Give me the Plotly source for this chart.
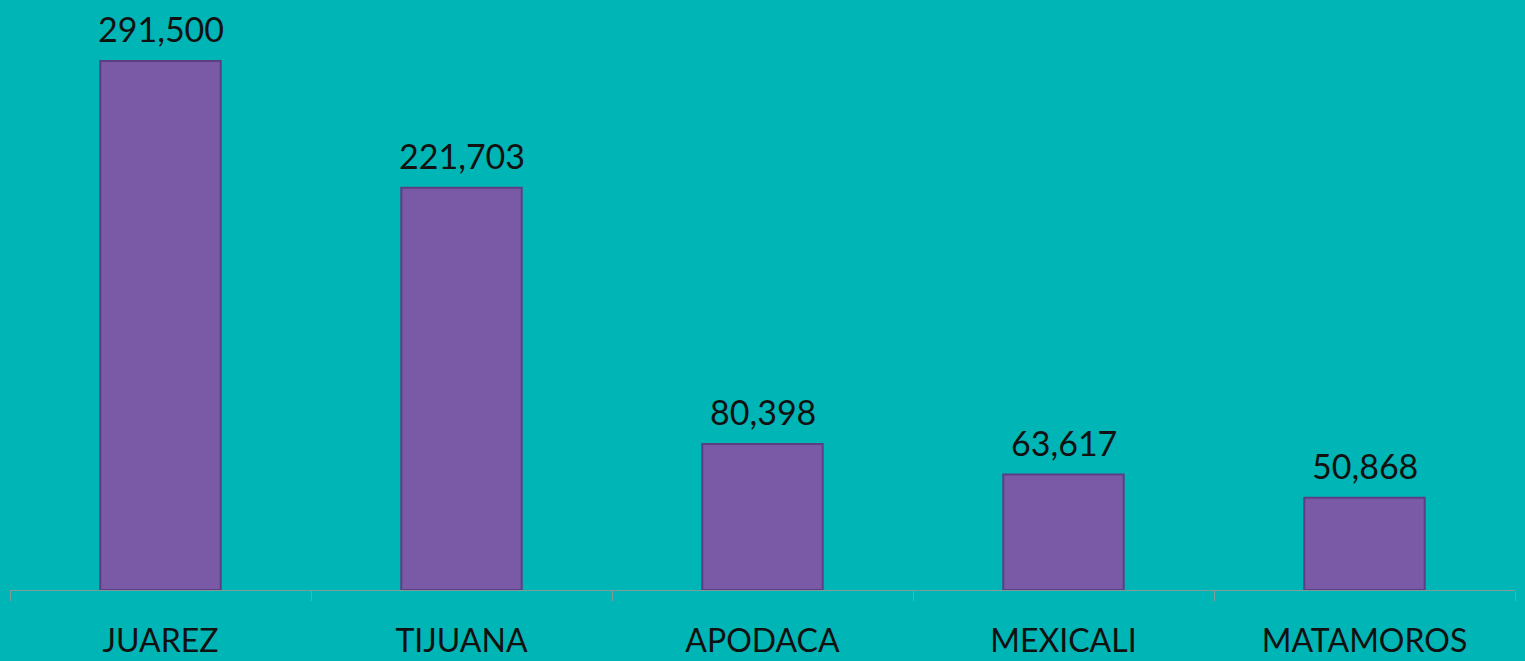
import plotly.graph_objects as go

# Data
cities = ["JUAREZ", "TIJUANA", "APODACA", "MEXICALI", "MATAMOROS"]
values = [291500, 221703, 80398, 63617, 50868]

BG = "#00B5B5"
BAR = "#7A5AA6"
BAR_EDGE = "#5B3F82"
TEXT = "#111111"

fig = go.Figure()
fig.add_trace(go.Bar(
    x=cities,
    y=values,
    width=0.4,
    marker=dict(color=BAR, line=dict(color=BAR_EDGE, width=2)),
    hoverinfo="skip",
))

# value labels sit a bit higher above the bars than plotly's own outside text
for city, v in zip(cities, values):
    fig.add_annotation(
        x=city, y=v, text=f"{v:,}",
        showarrow=False, yanchor="bottom", yshift=10,
        font=dict(size=34, color=TEXT),
    )

fig.update_layout(
    width=1525,
    height=661,
    margin=dict(l=10, r=10, t=0, b=71),
    paper_bgcolor=BG,
    plot_bgcolor=BG,
    font=dict(family="Lato, 'Open Sans', sans-serif", color=TEXT),
    showlegend=False,
    bargap=0.6,
    xaxis=dict(
        type="category",
        showline=True,
        linecolor="#7E9C9C",
        linewidth=1,
        ticks="outside",
        tickson="boundaries",
        ticklen=10,
        tickcolor="#7E9C9C",
        tickfont=dict(size=32, color=TEXT),
        ticklabelstandoff=23,
        showgrid=False,
    ),
    yaxis=dict(
        range=[0, 325100],
        visible=False,
        showgrid=False,
        zeroline=False,
    ),
)

fig.write_html(
    "out.html",
    config={"displayModeBar": False},
    post_script="document.body.style.margin='0';document.body.style.background='#00B5B5';",
)
